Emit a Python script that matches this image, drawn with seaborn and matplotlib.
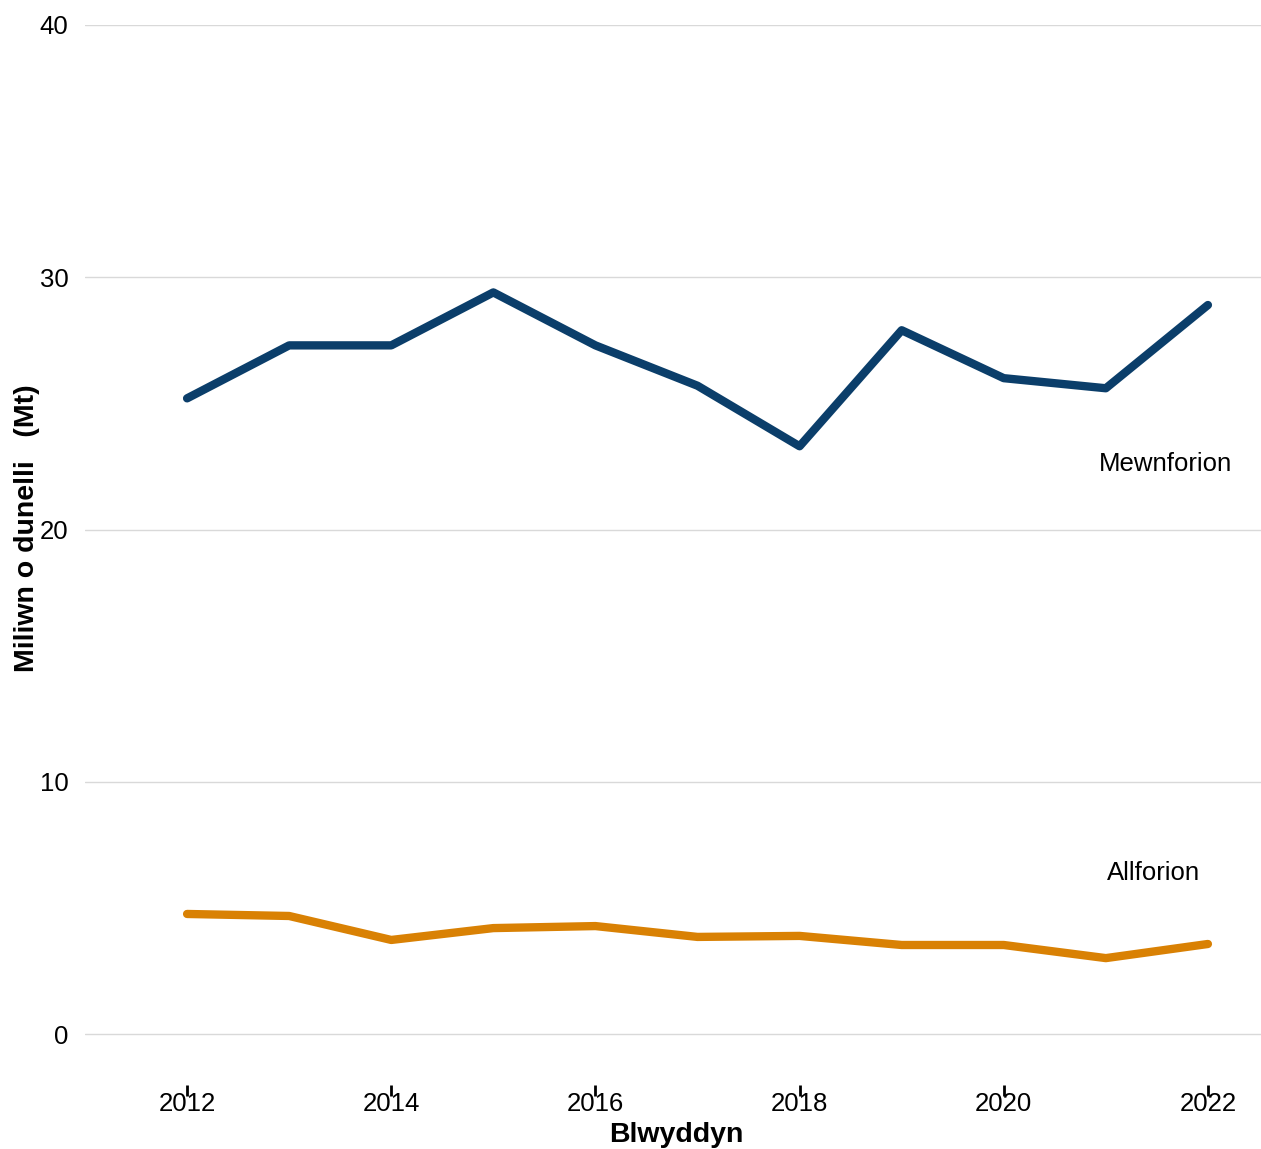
import pandas as pd
import matplotlib
matplotlib.use("Agg")
import matplotlib.pyplot as plt
import seaborn as sns

years = [2012, 2013, 2014, 2015, 2016, 2017, 2018, 2019, 2020, 2021, 2022]
mewnforion = [25.2, 27.3, 27.3, 29.4, 27.3, 25.7, 23.3, 27.9, 26.0, 25.6, 28.9]
allforion = [4.76, 4.68, 3.73, 4.2, 4.28, 3.85, 3.89, 3.53, 3.53, 3.01, 3.57]
series = ["Mewnforion", "Allforion"]
colours = ["#0b3e6a", "#d98104"]

df = pd.DataFrame({
    "Blwyddyn": years * 2,
    "Mt": mewnforion + allforion,
    "Cyfres": [series[0]] * len(years) + [series[1]] * len(years),
})

sns.set_style("white")
plt.rcParams["font.family"] = ["Liberation Sans", "DejaVu Sans"]
plt.rcParams["text.color"] = "black"
plt.rcParams["xtick.color"] = "black"
plt.rcParams["ytick.color"] = "black"
plt.rcParams["axes.labelcolor"] = "black"

fig = plt.figure(figsize=(12.61, 11.49), dpi=100)
ax = fig.add_axes([85 / 1261, 64 / 1149, 1 - 85 / 1261, (1085 - 25) / 1149])

sns.lineplot(data=df, x="Blwyddyn", y="Mt", hue="Cyfres",
             palette=dict(zip(series, colours)), linewidth=6,
             legend=False, ax=ax)

ax.set_xlim(2011, 2022.52)
ax.set_ylim(-2.02, 40)
ax.set_yticks([0, 10, 20, 30, 40])
ax.set_xticks([2012, 2014, 2016, 2018, 2020, 2022])
ax.grid(axis="y", color="#d9d9d9", linewidth=1)
ax.grid(axis="x", visible=False)
for s in ax.spines.values():
    s.set_visible(False)

ax.tick_params(axis="y", length=0, labelsize=18.5, pad=12)
ax.tick_params(axis="x", bottom=True, length=8, width=2, direction="out",
               labelsize=18.5, pad=-3)

ax.set_xlabel("Blwyddyn", fontsize=20.5, fontweight="bold")
ax.set_ylabel("Miliwn o dunelli   (Mt)", fontsize=20.5, fontweight="bold")
ax.xaxis.set_label_coords(0.5026, -0.035)
ax.yaxis.set_label_coords(-0.038, 0.525)

ax.text(2021.58, 22.6, "Mewnforion", fontsize=18.5, ha="center", va="center")
ax.text(2021.47, 6.4, "Allforion", fontsize=18.5, ha="center", va="center")

fig.savefig("out.png", dpi=100)
